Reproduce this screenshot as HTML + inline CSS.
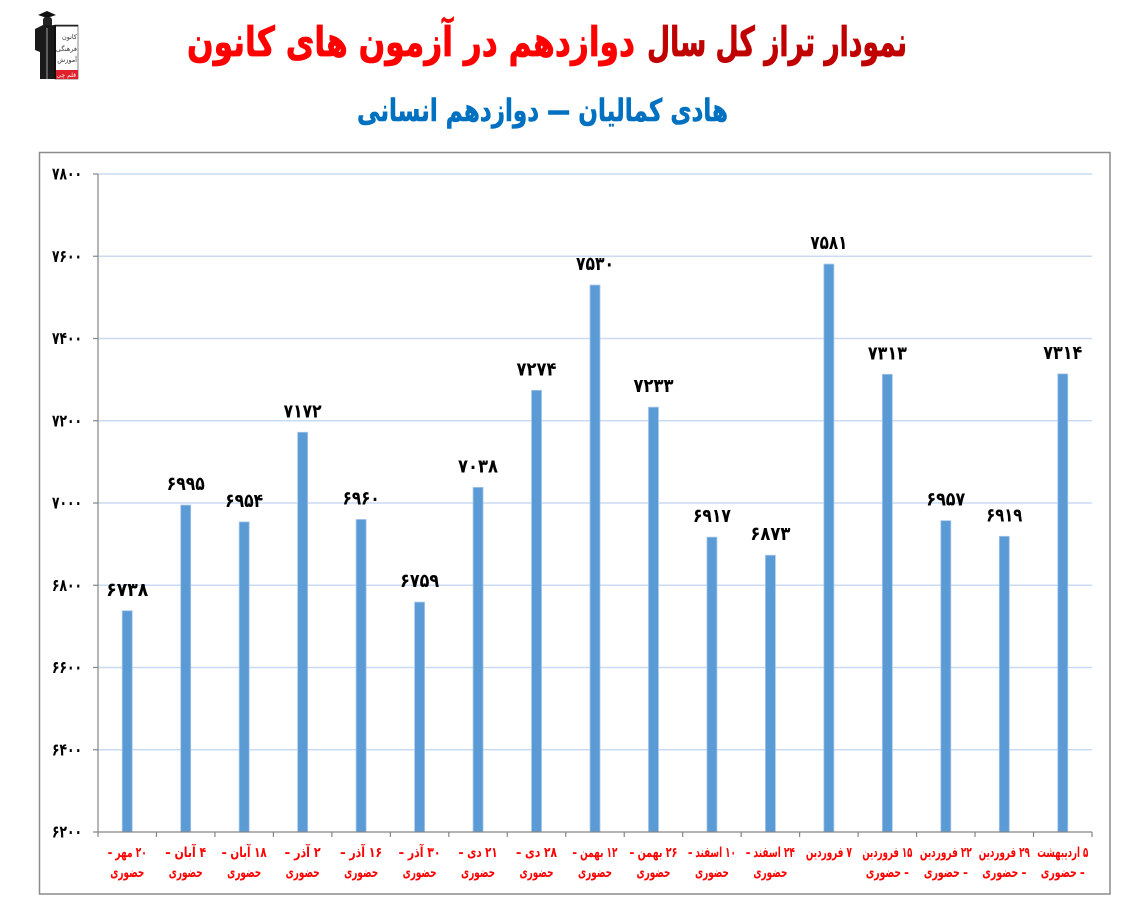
<!DOCTYPE html>
<html>
<head>
<meta charset="utf-8">
<style>
  html,body{margin:0;padding:0;background:#fff;}
  body{width:1127px;height:921px;overflow:hidden;}
  svg{display:block;}
  .fa{font-family:"DejaVu Sans","Liberation Sans",sans-serif;font-weight:bold;}
</style>
</head>
<body>
<svg width="1127" height="921" viewBox="0 0 1127 921" xmlns="http://www.w3.org/2000/svg">
  <rect x="0" y="0" width="1127" height="921" fill="#fff"/>

  <!-- Logo -->
  <g>
    <rect x="55" y="25" width="23" height="54" fill="#fff" stroke="#333" stroke-width="0.6"/>
    <path d="M38 15 L47 11 L56 15 L47 18 Z" fill="#111"/>
    <rect x="43" y="17" width="9" height="10" rx="3" fill="#222"/>
    <path d="M35 29 L43 25 L52 25 L56 27 L56 79 L40 79 L40 52 L35 50 Z" fill="#1a1a1a"/>
    <rect x="53" y="25" width="25" height="1.5" fill="#222"/>
    <rect x="54" y="25" width="2" height="54" fill="#111"/>
    <line x1="47" y1="28" x2="47" y2="79" stroke="#fff" stroke-width="0.6"/>
    <text x="77" y="39" font-size="6.5" fill="#333" text-anchor="start" direction="rtl" class="fa" style="font-weight:normal">کانون</text>
    <text x="77" y="51" font-size="6.5" fill="#333" text-anchor="start" direction="rtl" class="fa" style="font-weight:normal">فرهنگی</text>
    <text x="77" y="62" font-size="6.5" fill="#333" text-anchor="start" direction="rtl" class="fa" style="font-weight:normal">آموزش</text>
    <rect x="56" y="70" width="22" height="9" fill="#e0202a"/>
    <text x="76" y="77" font-size="6" fill="#fff" text-anchor="start" direction="rtl" class="fa" style="font-weight:normal">قلم چی</text>
  </g>

  <!-- Title -->
  <text x="907" y="56" font-size="41" fill="#C00000" class="fa" direction="rtl" text-anchor="start" textLength="260" lengthAdjust="spacingAndGlyphs" stroke="#C00000" stroke-width="0.8">نمودار تراز کل سال</text>
  <text x="635" y="56" font-size="41" fill="#FF0000" class="fa" direction="rtl" text-anchor="start" textLength="448" lengthAdjust="spacingAndGlyphs" stroke="#FF0000" stroke-width="0.8">دوازدهم در آزمون های کانون</text>

  <!-- Subtitle -->
  <text x="728" y="121" font-size="31" fill="#0070C0" class="fa" direction="rtl" text-anchor="start" textLength="371" lengthAdjust="spacingAndGlyphs" stroke="#0070C0" stroke-width="0.6">هادی کمالیان — دوازدهم انسانی</text>

  <!-- Chart frame -->
  <rect x="39.5" y="152.5" width="1070.5" height="741.5" fill="#fff" stroke="#8C8C8C" stroke-width="1.5"/>

  <!-- Gridlines -->
  <g stroke="#C9DBF2" stroke-width="1.6">
    <line x1="98" y1="174" x2="1092" y2="174"/>
    <line x1="98" y1="256.25" x2="1092" y2="256.25"/>
    <line x1="98" y1="338.5" x2="1092" y2="338.5"/>
    <line x1="98" y1="420.75" x2="1092" y2="420.75"/>
    <line x1="98" y1="503" x2="1092" y2="503"/>
    <line x1="98" y1="585.25" x2="1092" y2="585.25"/>
    <line x1="98" y1="667.5" x2="1092" y2="667.5"/>
    <line x1="98" y1="749.75" x2="1092" y2="749.75"/>
  </g>

  <!-- Y axis labels -->
  <g class="fa" font-size="17" fill="#000" text-anchor="end">
    <text x="82" y="179.5" textLength="30" lengthAdjust="spacingAndGlyphs">۷۸۰۰</text>
    <text x="82" y="261.75" textLength="30" lengthAdjust="spacingAndGlyphs">۷۶۰۰</text>
    <text x="82" y="344" textLength="30" lengthAdjust="spacingAndGlyphs">۷۴۰۰</text>
    <text x="82" y="426.25" textLength="30" lengthAdjust="spacingAndGlyphs">۷۲۰۰</text>
    <text x="82" y="508.5" textLength="30" lengthAdjust="spacingAndGlyphs">۷۰۰۰</text>
    <text x="82" y="590.75" textLength="30" lengthAdjust="spacingAndGlyphs">۶۸۰۰</text>
    <text x="82" y="673" textLength="30" lengthAdjust="spacingAndGlyphs">۶۶۰۰</text>
    <text x="82" y="755.25" textLength="30" lengthAdjust="spacingAndGlyphs">۶۴۰۰</text>
    <text x="82" y="837.5" textLength="30" lengthAdjust="spacingAndGlyphs">۶۲۰۰</text>
  </g>

  <!-- Bars -->
  <g fill="#5B9BD5" stroke="#A8C7EA" stroke-width="0.8">
    <rect x="122.24" y="610.75" width="10" height="221.25"/>
    <rect x="180.71" y="505.06" width="10" height="326.94"/>
    <rect x="239.18" y="521.92" width="10" height="310.08"/>
    <rect x="297.65" y="432.26" width="10" height="399.74"/>
    <rect x="356.12" y="519.45" width="10" height="312.55"/>
    <rect x="414.59" y="602.11" width="10" height="229.89"/>
    <rect x="473.06" y="487.37" width="10" height="344.63"/>
    <rect x="531.53" y="390.32" width="10" height="441.68"/>
    <rect x="590.00" y="285.04" width="10" height="546.96"/>
    <rect x="648.47" y="407.18" width="10" height="424.82"/>
    <rect x="706.94" y="537.13" width="10" height="294.87"/>
    <rect x="765.41" y="555.23" width="10" height="276.77"/>
    <rect x="823.88" y="264.06" width="10" height="567.94"/>
    <rect x="882.35" y="374.28" width="10" height="457.72"/>
    <rect x="940.82" y="520.68" width="10" height="311.32"/>
    <rect x="999.29" y="536.31" width="10" height="295.69"/>
    <rect x="1057.76" y="373.87" width="10" height="458.13"/>
  </g>

  <!-- Axes -->
  <g stroke="#868686" stroke-width="1.2" fill="none">
    <line x1="98" y1="174" x2="98" y2="832.5"/>
    <line x1="97.5" y1="832" x2="1092" y2="832"/>
    <line x1="93" y1="174" x2="98" y2="174"/>
    <line x1="93" y1="256.25" x2="98" y2="256.25"/>
    <line x1="93" y1="338.5" x2="98" y2="338.5"/>
    <line x1="93" y1="420.75" x2="98" y2="420.75"/>
    <line x1="93" y1="503" x2="98" y2="503"/>
    <line x1="93" y1="585.25" x2="98" y2="585.25"/>
    <line x1="93" y1="667.5" x2="98" y2="667.5"/>
    <line x1="93" y1="749.75" x2="98" y2="749.75"/>
    <line x1="93" y1="832" x2="98" y2="832"/>
    <line x1="98" y1="832" x2="98" y2="837"/>
    <line x1="156.47" y1="832" x2="156.47" y2="837"/>
    <line x1="214.94" y1="832" x2="214.94" y2="837"/>
    <line x1="273.41" y1="832" x2="273.41" y2="837"/>
    <line x1="331.88" y1="832" x2="331.88" y2="837"/>
    <line x1="390.35" y1="832" x2="390.35" y2="837"/>
    <line x1="448.82" y1="832" x2="448.82" y2="837"/>
    <line x1="507.29" y1="832" x2="507.29" y2="837"/>
    <line x1="565.76" y1="832" x2="565.76" y2="837"/>
    <line x1="624.23" y1="832" x2="624.23" y2="837"/>
    <line x1="682.70" y1="832" x2="682.70" y2="837"/>
    <line x1="741.17" y1="832" x2="741.17" y2="837"/>
    <line x1="799.64" y1="832" x2="799.64" y2="837"/>
    <line x1="858.11" y1="832" x2="858.11" y2="837"/>
    <line x1="916.58" y1="832" x2="916.58" y2="837"/>
    <line x1="975.05" y1="832" x2="975.05" y2="837"/>
    <line x1="1033.52" y1="832" x2="1033.52" y2="837"/>
    <line x1="1092" y1="832" x2="1092" y2="837"/>
  </g>

  <!-- Data labels -->
  <g class="fa" font-size="19" fill="#000" text-anchor="middle">
    <text x="127.24" y="595.75" textLength="42" lengthAdjust="spacingAndGlyphs">۶۷۳۸</text>
    <text x="185.71" y="490.06" textLength="38" lengthAdjust="spacingAndGlyphs">۶۹۹۵</text>
    <text x="244.18" y="506.92" textLength="38" lengthAdjust="spacingAndGlyphs">۶۹۵۴</text>
    <text x="302.65" y="417.26" textLength="38" lengthAdjust="spacingAndGlyphs">۷۱۷۲</text>
    <text x="361.12" y="504.45" textLength="37" lengthAdjust="spacingAndGlyphs">۶۹۶۰</text>
    <text x="419.59" y="587.11" textLength="39" lengthAdjust="spacingAndGlyphs">۶۷۵۹</text>
    <text x="478.06" y="472.37" textLength="40" lengthAdjust="spacingAndGlyphs">۷۰۳۸</text>
    <text x="536.53" y="375.32" textLength="40" lengthAdjust="spacingAndGlyphs">۷۲۷۴</text>
    <text x="595.00" y="270.04" textLength="38" lengthAdjust="spacingAndGlyphs">۷۵۳۰</text>
    <text x="653.47" y="392.18" textLength="40" lengthAdjust="spacingAndGlyphs">۷۲۳۳</text>
    <text x="711.94" y="522.13" textLength="38" lengthAdjust="spacingAndGlyphs">۶۹۱۷</text>
    <text x="770.41" y="540.23" textLength="40" lengthAdjust="spacingAndGlyphs">۶۸۷۳</text>
    <text x="828.88" y="249.06" textLength="37" lengthAdjust="spacingAndGlyphs">۷۵۸۱</text>
    <text x="887.35" y="359.28" textLength="39" lengthAdjust="spacingAndGlyphs">۷۳۱۳</text>
    <text x="945.82" y="505.68" textLength="39" lengthAdjust="spacingAndGlyphs">۶۹۵۷</text>
    <text x="1004.29" y="521.31" textLength="36" lengthAdjust="spacingAndGlyphs">۶۹۱۹</text>
    <text x="1062.76" y="358.87" textLength="39" lengthAdjust="spacingAndGlyphs">۷۳۱۴</text>
  </g>

  <!-- Category labels -->
  <g class="fa" font-size="14" fill="#FF0000" text-anchor="middle" direction="rtl">
    <text x="127.24" y="857" textLength="39" lengthAdjust="spacingAndGlyphs">۲۰ مهر –</text>
    <text x="127.24" y="877" textLength="34" lengthAdjust="spacingAndGlyphs">حضوری</text>
    <text x="185.71" y="857" textLength="41" lengthAdjust="spacingAndGlyphs">۴ آبان –</text>
    <text x="185.71" y="877" textLength="34" lengthAdjust="spacingAndGlyphs">حضوری</text>
    <text x="244.18" y="857" textLength="45" lengthAdjust="spacingAndGlyphs">۱۸ آبان –</text>
    <text x="244.18" y="877" textLength="34" lengthAdjust="spacingAndGlyphs">حضوری</text>
    <text x="302.65" y="857" textLength="36" lengthAdjust="spacingAndGlyphs">۲ آذر –</text>
    <text x="302.65" y="877" textLength="34" lengthAdjust="spacingAndGlyphs">حضوری</text>
    <text x="361.12" y="857" textLength="42" lengthAdjust="spacingAndGlyphs">۱۶ آذر –</text>
    <text x="361.12" y="877" textLength="34" lengthAdjust="spacingAndGlyphs">حضوری</text>
    <text x="419.59" y="857" textLength="42" lengthAdjust="spacingAndGlyphs">۳۰ آذر –</text>
    <text x="419.59" y="877" textLength="34" lengthAdjust="spacingAndGlyphs">حضوری</text>
    <text x="478.06" y="857" textLength="39" lengthAdjust="spacingAndGlyphs">۲۱ دی –</text>
    <text x="478.06" y="877" textLength="34" lengthAdjust="spacingAndGlyphs">حضوری</text>
    <text x="536.53" y="857" textLength="41" lengthAdjust="spacingAndGlyphs">۲۸ دی –</text>
    <text x="536.53" y="877" textLength="34" lengthAdjust="spacingAndGlyphs">حضوری</text>
    <text x="595.00" y="857" textLength="45" lengthAdjust="spacingAndGlyphs">۱۲ بهمن –</text>
    <text x="595.00" y="877" textLength="34" lengthAdjust="spacingAndGlyphs">حضوری</text>
    <text x="653.47" y="857" textLength="48" lengthAdjust="spacingAndGlyphs">۲۶ بهمن –</text>
    <text x="653.47" y="877" textLength="34" lengthAdjust="spacingAndGlyphs">حضوری</text>
    <text x="711.94" y="857" textLength="48" lengthAdjust="spacingAndGlyphs">۱۰ اسفند –</text>
    <text x="711.94" y="877" textLength="34" lengthAdjust="spacingAndGlyphs">حضوری</text>
    <text x="770.41" y="857" textLength="49" lengthAdjust="spacingAndGlyphs">۲۴ اسفند –</text>
    <text x="770.41" y="877" textLength="34" lengthAdjust="spacingAndGlyphs">حضوری</text>
    <text x="828.88" y="857" textLength="46" lengthAdjust="spacingAndGlyphs">۷ فروردین</text>
    <text x="887.35" y="857" textLength="50" lengthAdjust="spacingAndGlyphs">۱۵ فروردین</text>
    <text x="887.35" y="877" textLength="43" lengthAdjust="spacingAndGlyphs">– حضوری</text>
    <text x="945.82" y="857" textLength="52" lengthAdjust="spacingAndGlyphs">۲۲ فروردین</text>
    <text x="945.82" y="877" textLength="44" lengthAdjust="spacingAndGlyphs">– حضوری</text>
    <text x="1004.29" y="857" textLength="51" lengthAdjust="spacingAndGlyphs">۲۹ فروردین</text>
    <text x="1004.29" y="877" textLength="44" lengthAdjust="spacingAndGlyphs">– حضوری</text>
    <text x="1062.76" y="857" textLength="51" lengthAdjust="spacingAndGlyphs">۵ اردیبهشت</text>
    <text x="1062.76" y="877" textLength="44" lengthAdjust="spacingAndGlyphs">– حضوری</text>
  </g>
</svg>
</body>
</html>
